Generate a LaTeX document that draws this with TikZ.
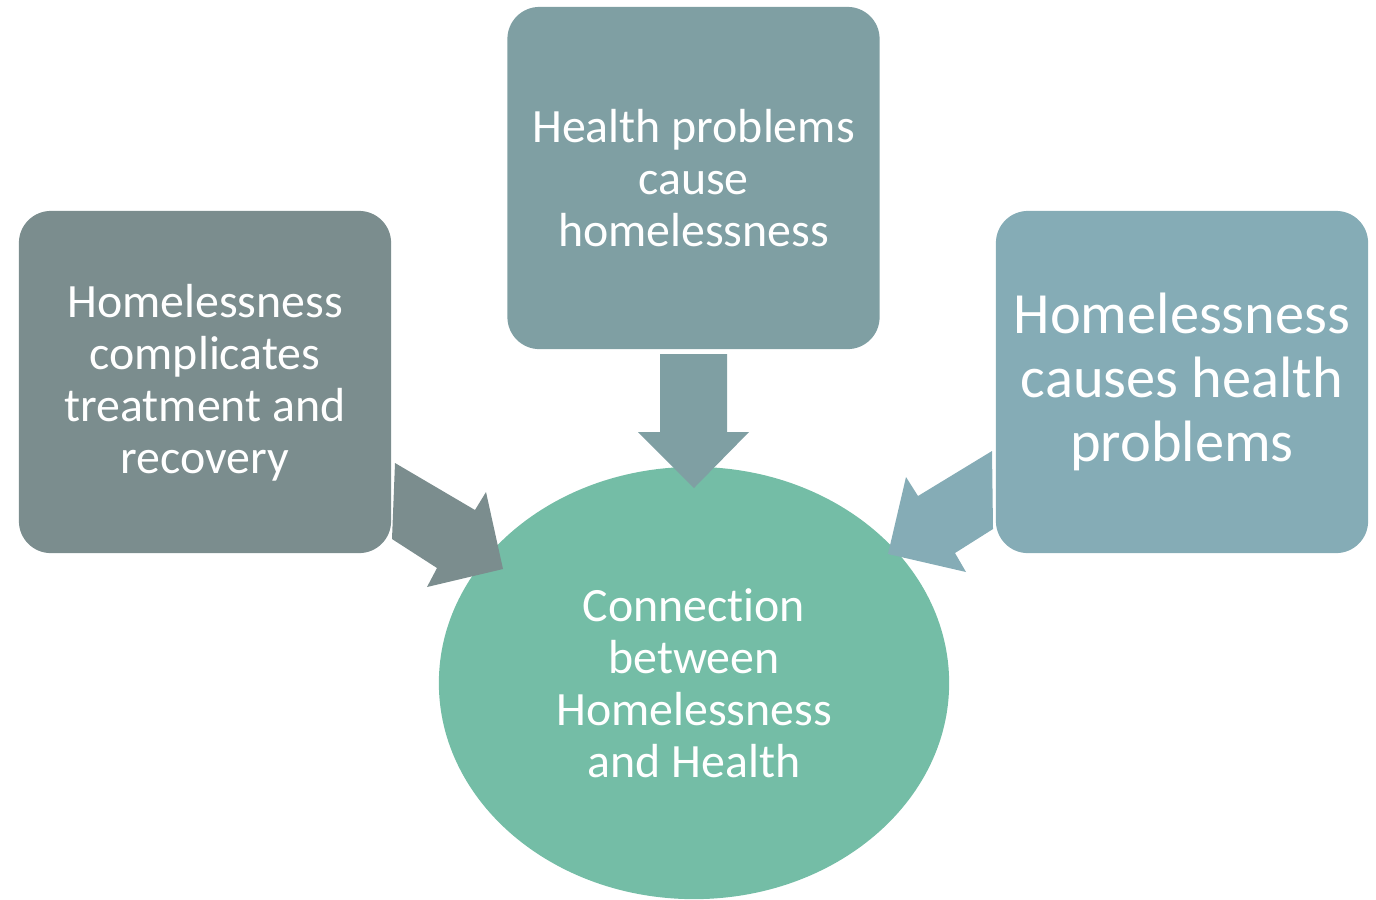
\documentclass[tikz,border=0pt]{standalone}
\usepackage{fontspec}
\setmainfont[Ligatures=NoCommon]{Carlito}
\usetikzlibrary{shapes.geometric}
\definecolor{boxleft}{HTML}{7B8D8E}
\definecolor{boxmid}{HTML}{7F9FA3}
\definecolor{boxright}{HTML}{85ACB6}
\definecolor{hub}{HTML}{74BDA6}
\tikzset{
  causebox/.style={rectangle, rounded corners=0.32cm, minimum width=3.72cm,
    minimum height=3.42cm, text=white, align=center, inner sep=2pt},
  hubnode/.style={ellipse, fill=hub, minimum width=5.1cm, minimum height=4.32cm,
    text=white, align=center, inner sep=0pt}
}
\begin{document}
\begin{tikzpicture}[x=0.01cm, y=-0.01cm]
    \useasboundingbox (0,0) rectangle (1376,899);

    % the three causes
    \node[causebox, fill=boxleft, font=\fontsize{13.6}{14.8}\selectfont] (complicates) at (205,382)
      {\rule{0pt}{0.34cm}Homelessness\\complicates\\treatment and\\recovery};
    \node[causebox, fill=boxmid, font=\fontsize{13.6}{14.8}\selectfont] (healthcause) at (693.5,178)
      {Health problems\\cause\\homelessness};
    \node[causebox, fill=boxright, font=\fontsize{16.6}{18.3}\selectfont] (causeshealth) at (1182,382)
      {Homelessness\\causes health\\problems};

    % the centre
    \node[hubnode, font=\fontsize{13.6}{14.8}\selectfont] (connection) at (694,683)
      {Connection\\between\\Homelessness\\and Health};

    % block arrows into the centre
    \fill[boxleft] (395,463) -- (475,510) -- (486,492) -- (503,569)
      -- (427,587) -- (437,568) -- (392,539) -- cycle;
    \fill[boxmid] (660,354) -- (727,354) -- (727,432) -- (749,432)
      -- (694,488) -- (638,432) -- (660,432) -- cycle;
    \fill[boxright] (992,451) -- (918,496) -- (906,477) -- (888,554)
      -- (966,572) -- (955,553) -- (993,529) -- cycle;
  \end{tikzpicture}
\end{document}
